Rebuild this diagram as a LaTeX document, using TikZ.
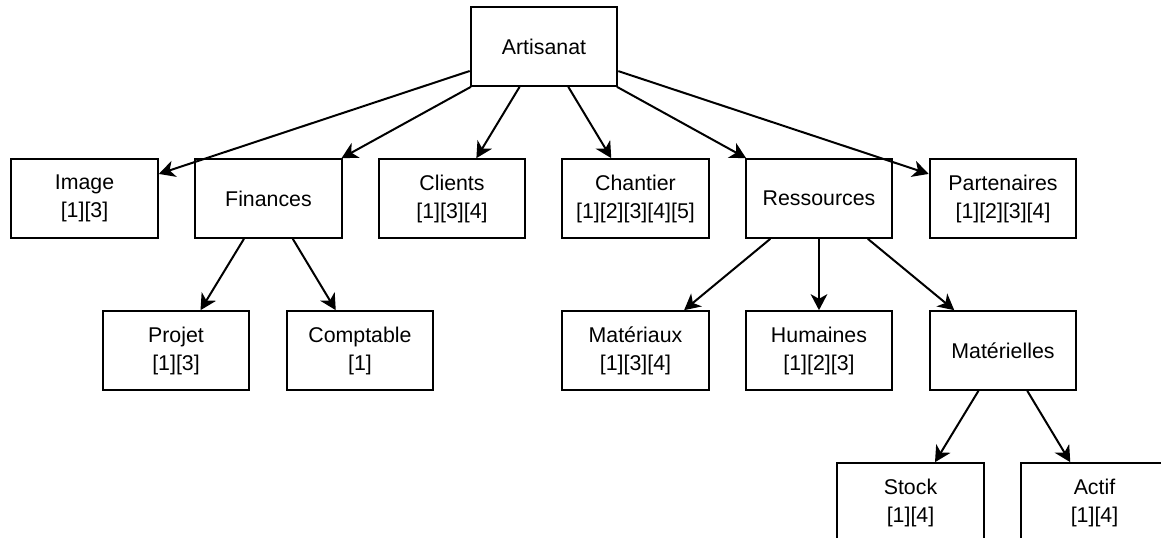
\documentclass[tikz,border=0pt]{standalone}
\usepackage{fontspec}
\setmainfont{Liberation Sans}
\usepackage{tikz}
\usetikzlibrary{arrows.meta}

\tikzset{
  boite/.style={draw, line width=1.5pt, minimum width=110pt, minimum height=59pt,
    inner sep=0pt, align=center, font=\fontsize{16}{21}\selectfont},
  fleche/.style={line width=1.5pt, -{Stealth[length=12pt,width=12.5pt,inset=3.5pt]}}
}

\begin{document}
\begin{tikzpicture}[x=0.75pt,y=-0.75pt]
\useasboundingbox (0,0) rectangle (1161,537);

\node[boite] (art) at (544,46.5) {Artisanat};

\node[boite] (img) at (84.5,198.5) {Image\\{}[1][3]};
\node[boite] (fin) at (268.5,198.5) {Finances};
\node[boite] (cli) at (452,198.5) {Clients\\{}[1][3][4]};
\node[boite] (cha) at (635.5,198.5) {Chantier\\{}[1][2][3][4][5]};
\node[boite] (res) at (819,198.5) {Ressources};
\node[boite] (par) at (1003,198.5) {Partenaires\\{}[1][2][3][4]};

\node[boite] (pro) at (176,350.5) {Projet\\{}[1][3]};
\node[boite] (com) at (360,350.5) {Comptable\\{}[1]};
\node[boite] (mat) at (635.5,350.5) {Matériaux\\{}[1][3][4]};
\node[boite] (hum) at (819,350.5) {Humaines\\{}[1][2][3]};
\node[boite] (mel) at (1003,350.5) {Matérielles};

\node[boite] (sto) at (910.5,502.5) {Stock\\{}[1][4]};
\node[boite] (act) at (1094.5,502.5) {Actif\\{}[1][4]};

% arbre
\foreach \b in {img,fin,cli,cha,res,par}
  \draw[fleche] (art) -- (\b);
\draw[fleche] (fin) -- (pro);
\draw[fleche] (fin) -- (com);
\foreach \b in {mat,hum,mel}
  \draw[fleche] (res) -- (\b);
\draw[fleche] (mel) -- (sto);
\draw[fleche] (mel) -- (act);

\end{tikzpicture}
\end{document}
